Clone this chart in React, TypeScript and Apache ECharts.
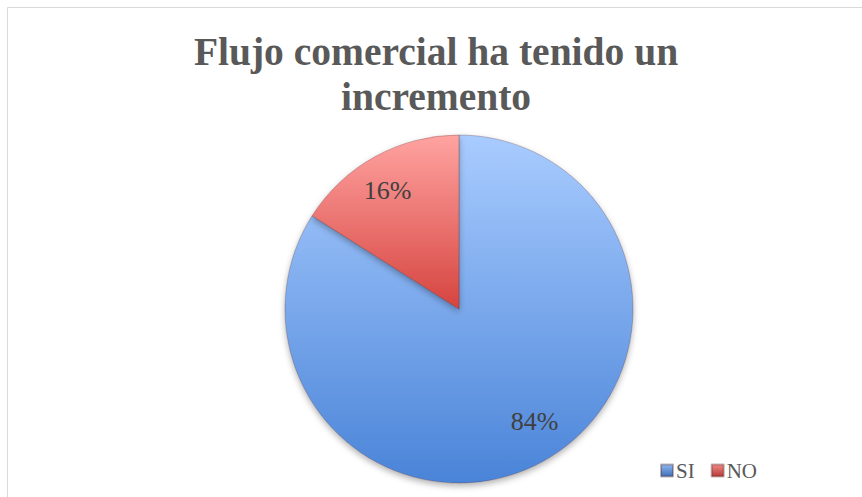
import React, { useEffect, useRef } from "react";
import * as echarts from "echarts";

const titleText = "Flujo comercial ha tenido un\nincremento";
const categories = ["SI", "NO"];
const values = [84, 16];
const labels = ["84%", "16%"];

const SERIF = "'Liberation Serif', 'DejaVu Serif', serif";

export default function App() {
  const ref = useRef<HTMLDivElement>(null);
  useEffect(() => {
    document.body.style.margin = "0";
    const chart = echarts.init(ref.current!, undefined, { renderer: "svg" });
    const colors = [
      new echarts.graphic.LinearGradient(0, 0, 0, 1, [
        { offset: 0, color: "#a9ccff" },
        { offset: 1, color: "#4a84d8" },
      ]),
      new echarts.graphic.LinearGradient(0, 0, 0, 1, [
        { offset: 0, color: "#ffa3a1" },
        { offset: 1, color: "#d6443f" },
      ]),
    ];
    const legendColors = [
      new echarts.graphic.LinearGradient(0, 0, 0, 1, [
        { offset: 0, color: "#8fb8f0" },
        { offset: 1, color: "#3d6fb8" },
      ]),
      new echarts.graphic.LinearGradient(0, 0, 0, 1, [
        { offset: 0, color: "#f08a88" },
        { offset: 1, color: "#b83a36" },
      ]),
    ];
    const labelOffsets = [
      [9, -8],
      [-5, 2],
    ];
    chart.setOption({
      animation: false,
      title: {
        text: titleText,
        left: 431,
        top: 24,
        textAlign: "center",
        textStyle: {
          fontFamily: SERIF,
          fontWeight: "bold",
          fontSize: 39.5,
          lineHeight: 45,
          color: "#595959",
        },
      },
      legend: {
        data: categories.map((c, i) => ({
          name: c,
          itemStyle: { color: legendColors[i] },
        })),
        left: 655,
        top: 455,
        icon: "rect",
        itemWidth: 12,
        itemHeight: 12,
        itemGap: 16,
        textStyle: {
          fontFamily: SERIF,
          fontSize: 21,
          color: "#595959",
          padding: [0, 0, 0, -2],
        },
      },
      graphic: [
        {
          type: "rect",
          shape: { x: 7.5, y: 7.5, width: 1000, height: 1000 },
          style: { fill: "none", stroke: "#d9d9d9", lineWidth: 1 },
          silent: true,
          z: -1,
        },
      ],
      series: [
        {
          type: "pie",
          center: [459, 309],
          radius: [0, 174],
          startAngle: 90,
          clockwise: true,
          label: { show: false },
          labelLine: { show: false },
          itemStyle: {
            borderColor: "rgba(80,40,40,0.35)",
            borderWidth: 0.8,
            shadowBlur: 6,
            shadowOffsetY: 3,
            shadowColor: "rgba(0,0,0,0.3)",
          },
          emphasis: { disabled: true },
          data: categories.map((c, i) => ({
            name: c,
            value: values[i],
            itemStyle: { color: colors[i] },
          })),
        },
        {
          type: "pie",
          center: [459, 309],
          radius: [96, 174],
          startAngle: 90,
          clockwise: true,
          silent: true,
          legendHoverLink: false,
          itemStyle: { color: "rgba(0,0,0,0)" },
          label: {
            show: true,
            position: "inside",
            fontFamily: SERIF,
            fontSize: 26,
            color: "#404040",
            formatter: (p: any) => labels[p.dataIndex],
          },
          labelLine: { show: false },
          emphasis: { disabled: true },
          data: categories.map((c, i) => ({
            name: c + " ",
            value: values[i],
            label: { offset: labelOffsets[i] },
          })),
        },
      ],
    });
    return () => chart.dispose();
  }, []);
  return <div ref={ref} style={{ width: 862, height: 497 }} />;
}
